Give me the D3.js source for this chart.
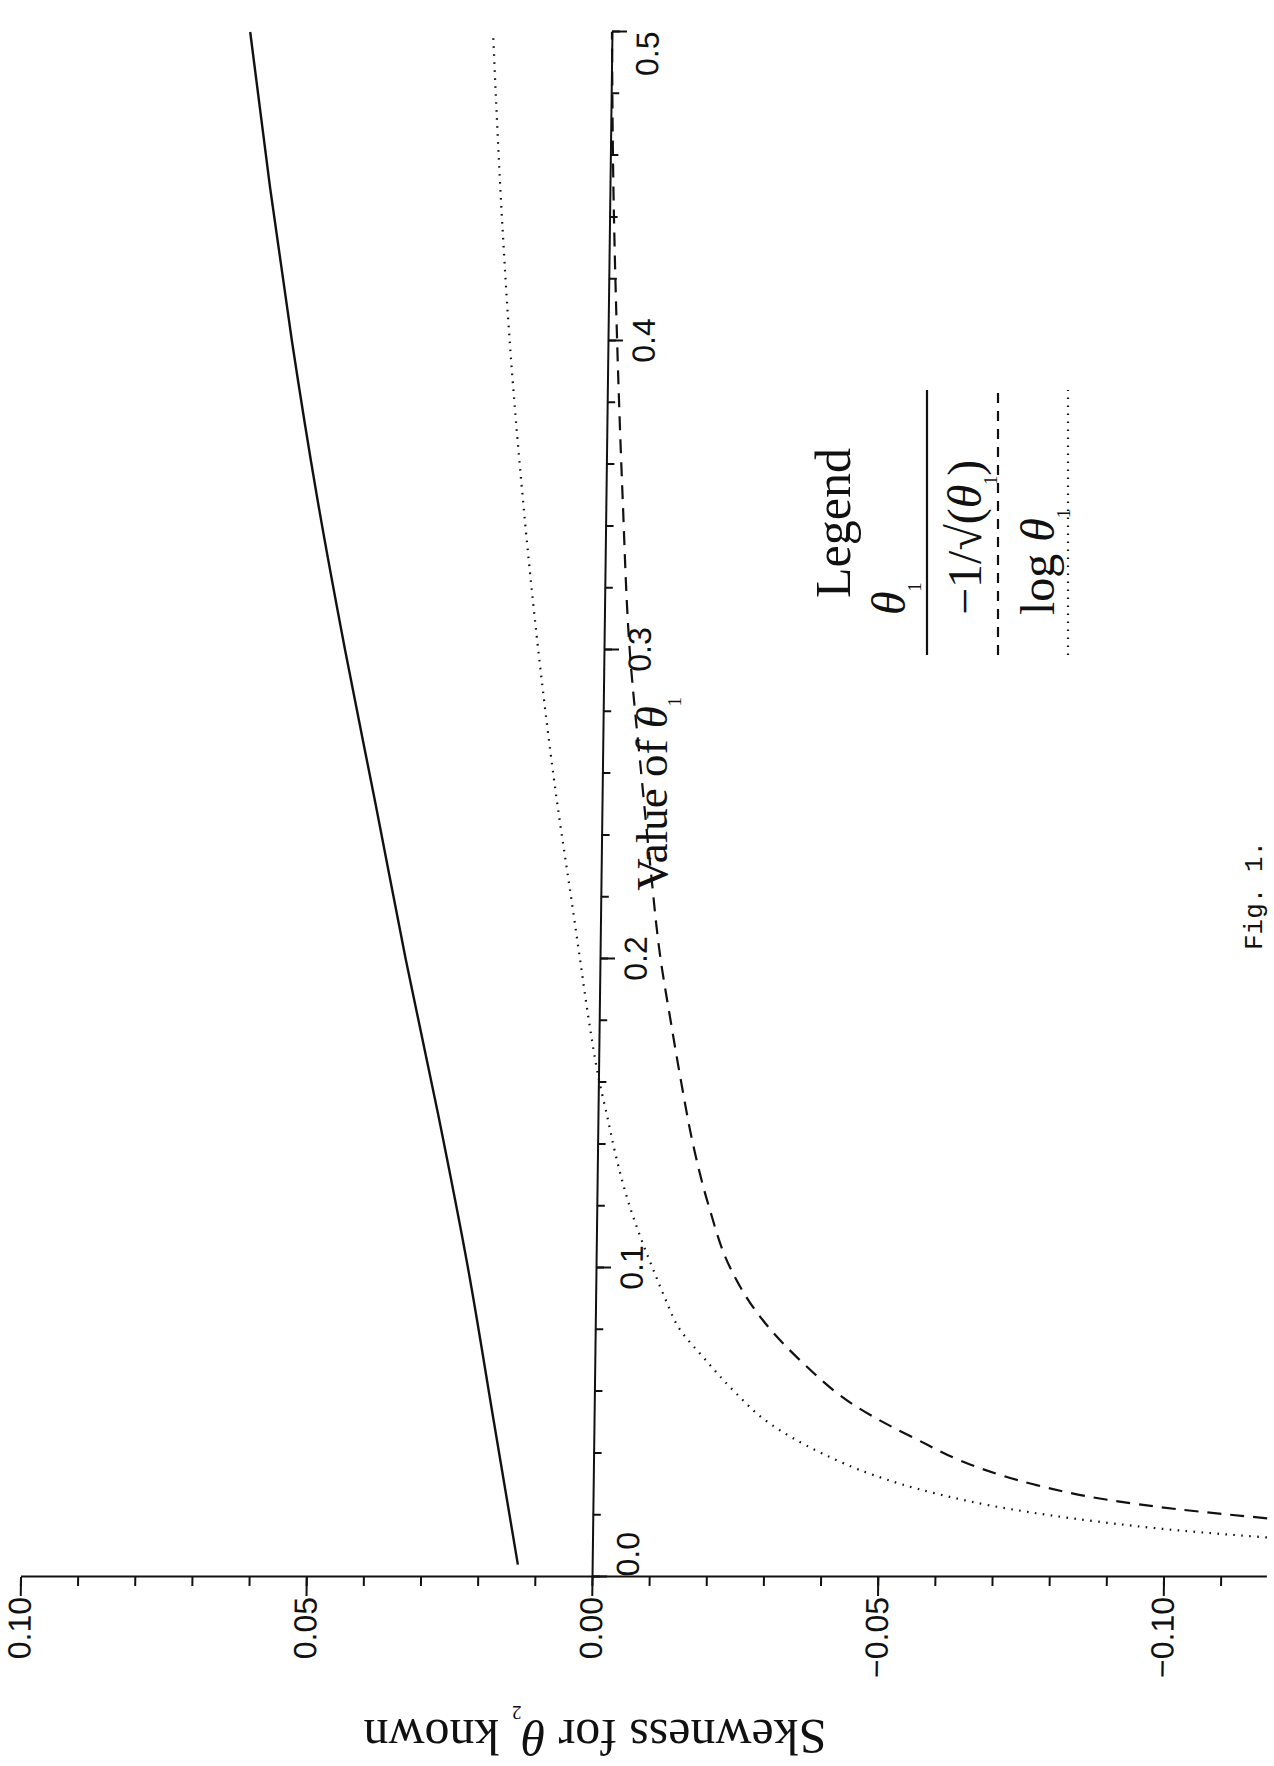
<!DOCTYPE html>
<html>
<head>
<meta charset="utf-8">
<script src="https://cdn.jsdelivr.net/npm/d3@7"></script>
<style>
  body { margin: 0; background: #fff; }
  svg { display: block; }
</style>
</head>
<body>
<div id="chart"></div>
<script>
// Tick values and labels
const thetaTicks = [0, 0.1, 0.2, 0.3, 0.4, 0.5]
const thetaTickLabels = ['0.0', '0.1', '0.2', '0.3', '0.4', '0.5']
const skewTicks = [0.10, 0.05, 0.00, -0.05, -0.10]
const skewTickLabels = ['0.10', '0.05', '0.00', '\u22120.05', '\u22120.10']

// Series: theta1 parametrisation (solid)
const thetaSolid = [0.004, 0.05, 0.1, 0.15, 0.2, 0.25, 0.3, 0.35, 0.4, 0.45, 0.5]
const skewSolid = [0.0130, 0.0175, 0.0224, 0.0280, 0.0340, 0.0396, 0.0453, 0.0506, 0.0553, 0.0595, 0.0633]

// Series: -1/sqrt(theta1) (dashed)
const thetaDashed = [0.019, 0.022, 0.025, 0.03, 0.035, 0.045, 0.055, 0.07, 0.085, 0.1, 0.12, 0.14, 0.16, 0.18, 0.2, 0.23, 0.26, 0.3, 0.35, 0.4, 0.45, 0.5]
const skewDashed = [-0.118, -0.102, -0.090, -0.077, -0.068, -0.056, -0.046, -0.036, -0.0285, -0.0235, -0.0196, -0.0167, -0.0145, -0.0125, -0.0106, -0.0086, -0.0068, -0.0045, -0.0029, -0.0016, -0.0006, 0.0000]

// Series: log theta1 (dotted)
const thetaDotted = [0.0128, 0.015, 0.018, 0.022, 0.027, 0.033, 0.04, 0.05, 0.06, 0.07, 0.081, 0.09, 0.1, 0.11, 0.122, 0.135, 0.15, 0.16, 0.18, 0.2, 0.22, 0.25, 0.3, 0.35, 0.4, 0.45, 0.5]
const skewDotted = [-0.118, -0.103, -0.088, -0.073, -0.060, -0.049, -0.040, -0.0305, -0.0245, -0.0195, -0.0145, -0.0122, -0.0099, -0.0077, -0.0054, -0.0034, -0.0015, -0.0002, 0.0018, 0.0035, 0.0052, 0.0078, 0.0115, 0.0146, 0.0172, 0.0192, 0.0208]

const W = 1274, H = 1766
const ink = '#111'
const serif = "'Liberation Serif', 'Times New Roman', serif"
const sans = "'Liberation Sans', Arial, sans-serif"

const svg = d3.select('#chart').append('svg')
  .attr('width', W)
  .attr('height', H)

// The figure is printed sideways: draw it upright, then turn it a quarter
const baseY = 1577
const outer = svg.append('g')
  .attr('transform', 'translate(0,' + baseY + ') rotate(-90)')
// slight skew of the scanned plot area
const plot = outer.append('g').attr('transform', 'skewY(0.74)')

const x = d3.scaleLinear().domain([0, 0.5]).range([0, 1545])
const y = d3.scaleLinear().domain([0.10, -0.118]).range([20.5, 1266.4])

// Skewness axis (appears at the bottom of the page)
plot.append('g')
  .attr('class', 'axis')
  .call(d3.axisLeft(y).tickValues(d3.range(-11, 11).map(d => d / 100)).tickSize(9).tickSizeOuter(0).tickFormat(''))
  .call(g => g.select('.domain').remove())
plot.append('g')
  .attr('class', 'axis')
  .call(d3.axisLeft(y).tickValues(skewTicks).tickSize(19).tickSizeOuter(0).tickPadding(1)
    .tickFormat((d, i) => skewTickLabels[i]))
  .attr('font-size', 32)
  .attr('font-family', sans)

// Theta axis, drawn through zero skewness
const thetaAxis = plot.append('g')
  .attr('class', 'axis')
  .attr('transform', 'translate(0,' + y(0) + ')')
thetaAxis.append('g')
  .call(d3.axisBottom(x).tickValues(d3.range(0, 26).map(d => d / 50)).tickSize(8).tickSizeOuter(0).tickFormat(''))
  .call(g => g.select('.domain').remove())
thetaAxis.append('g')
  .call(d3.axisBottom(x).tickValues(thetaTicks).tickSize(15).tickSizeOuter(0).tickPadding(9)
    .tickFormat((d, i) => thetaTickLabels[i]))
  .attr('font-size', 32)
  .attr('font-family', sans)
  .call(g => g.selectAll('.tick text')
    .attr('text-anchor', (d, i) => i === 0 ? 'start' : (i === thetaTicks.length - 1 ? 'end' : 'middle')))

svg.selectAll('.axis path, .axis line')
  .attr('stroke', ink)
  .attr('stroke-width', 2)
svg.selectAll('.axis text').attr('fill', ink)

// Curves
const line = d3.line()
  .x(d => x(d[0]))
  .y(d => y(d[1]))
  .curve(d3.curveMonotoneX)

const series = [
  {t: thetaSolid, s: skewSolid, dash: null, width: 2.4},
  {t: thetaDashed, s: skewDashed, dash: '14,9', width: 2.2},
  {t: thetaDotted, s: skewDotted, dash: '1.6,6.4', width: 2.2}
]
series.forEach(sr => {
  plot.append('path')
    .datum(sr.t.map((t, i) => [t, sr.s[i]]))
    .attr('d', line)
    .attr('fill', 'none')
    .attr('stroke', ink)
    .attr('stroke-width', sr.width)
    .attr('stroke-dasharray', sr.dash)
})

// Axis titles
const xTitle = outer.append('text')
  .attr('x', 783)
  .attr('y', 667)
  .attr('text-anchor', 'middle')
  .attr('font-family', serif)
  .attr('font-size', 45)
  .attr('fill', ink)
xTitle.append('tspan').text('Value of ')
xTitle.append('tspan').attr('font-style', 'italic').text('\u03b8')
xTitle.append('tspan').attr('font-size', 18).attr('dy', 14).text('1')

const yTitle = outer.append('text')
  .attr('transform', 'translate(-143,595) rotate(-90)')
  .attr('text-anchor', 'middle')
  .attr('font-family', serif)
  .attr('font-size', 50)
  .attr('fill', ink)
yTitle.append('tspan').text('Skewness for ')
yTitle.append('tspan').attr('font-style', 'italic').text('\u03b8')
yTitle.append('tspan').attr('font-size', 19).attr('dy', 14).text('2')
yTitle.append('tspan').attr('dy', -14).text(' known')

// Legend
const legend = outer.append('g')
  .attr('font-family', serif)
  .attr('fill', ink)
legend.append('text')
  .attr('x', 979).attr('y', 850)
  .attr('font-size', 50)
  .text('Legend')

const legendRows = [
  {pre: '', post: '', textY: 905, lineY: 927, dash: null},
  {pre: '\u22121/\u221a(', post: ')', textY: 981, lineY: 998, dash: '10,8'},
  {pre: 'log ', post: '', textY: 1054, lineY: 1068, dash: '1.6,6.4'}
]
legendRows.forEach(r => {
  const t = legend.append('text')
    .attr('x', 962).attr('y', r.textY)
    .attr('font-size', 48)
  if (r.pre) t.append('tspan').text(r.pre)
  t.append('tspan').attr('font-style', 'italic').text('\u03b8')
  t.append('tspan').attr('font-size', 18).attr('dy', 16).text('1')
  if (r.post) t.append('tspan').attr('dy', -16).text(r.post)
  legend.append('line')
    .attr('x1', 922).attr('x2', 1187)
    .attr('y1', r.lineY).attr('y2', r.lineY)
    .attr('stroke', ink)
    .attr('stroke-width', 2.2)
    .attr('stroke-dasharray', r.dash)
})

// Caption
outer.append('text')
  .attr('x', 627).attr('y', 1262)
  .attr('font-family', "'Liberation Mono', 'Courier New', monospace")
  .attr('font-size', 26)
  .attr('fill', ink)
  .text('Fig. 1.')
</script>
</body>
</html>
